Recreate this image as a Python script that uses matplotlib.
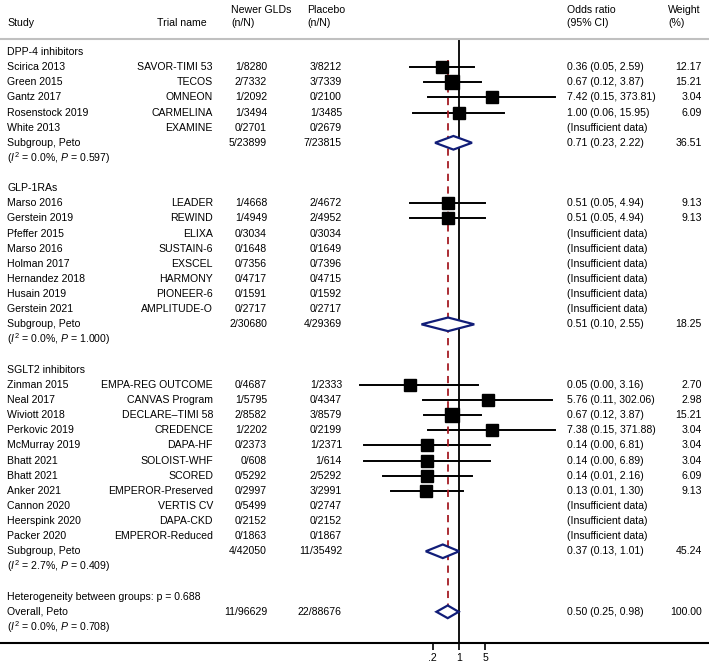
import numpy as np
import matplotlib
matplotlib.use("Agg")
import matplotlib.pyplot as plt

plt.rcParams['font.family'] = ['Liberation Sans', 'DejaVu Sans']
plt.rcParams['mathtext.fontset'] = 'custom'
plt.rcParams['mathtext.rm'] = 'Liberation Sans'
plt.rcParams['mathtext.it'] = 'Liberation Sans:italic'

# ---- data ----
group_names = ['DPP-4 inhibitors', 'GLP-1RAs', 'SGLT2 inhibitors']
group = [0, 0, 0, 0, 0,
         1, 1, 1, 1, 1, 1, 1, 1,
         2, 2, 2, 2, 2, 2, 2, 2, 2, 2, 2]
study = ['Scirica 2013', 'Green 2015', 'Gantz 2017', 'Rosenstock 2019', 'White 2013',
         'Marso 2016', 'Gerstein 2019', 'Pfeffer 2015', 'Marso 2016', 'Holman 2017',
         'Hernandez 2018', 'Husain 2019', 'Gerstein 2021',
         'Zinman 2015', 'Neal 2017', 'Wiviott 2018', 'Perkovic 2019', 'McMurray 2019',
         'Bhatt 2021', 'Bhatt 2021', 'Anker 2021', 'Cannon 2020', 'Heerspink 2020',
         'Packer 2020']
trial = ['SAVOR-TIMI 53', 'TECOS', 'OMNEON', 'CARMELINA', 'EXAMINE',
         'LEADER', 'REWIND', 'ELIXA', 'SUSTAIN-6', 'EXSCEL', 'HARMONY', 'PIONEER-6',
         'AMPLITUDE-O',
         'EMPA-REG OUTCOME', 'CANVAS Program', 'DECLARE\u2013TIMI 58', 'CREDENCE',
         'DAPA-HF', 'SOLOIST-WHF', 'SCORED', 'EMPEROR-Preserved', 'VERTIS CV',
         'DAPA-CKD', 'EMPEROR-Reduced']
n_new = ['1/8280', '2/7332', '1/2092', '1/3494', '0/2701',
         '1/4668', '1/4949', '0/3034', '0/1648', '0/7356', '0/4717', '0/1591', '0/2717',
         '0/4687', '1/5795', '2/8582', '1/2202', '0/2373', '0/608', '0/5292', '0/2997',
         '0/5499', '0/2152', '0/1863']
n_pbo = ['3/8212', '3/7339', '0/2100', '1/3485', '0/2679',
         '2/4672', '2/4952', '0/3034', '0/1649', '0/7396', '0/4715', '0/1592', '0/2717',
         '1/2333', '0/4347', '3/8579', '0/2199', '1/2371', '1/614', '2/5292', '3/2991',
         '0/2747', '0/2152', '0/1867']
odds = [0.36, 0.67, 7.42, 1.00, None,
        0.51, 0.51, None, None, None, None, None, None,
        0.05, 5.76, 0.67, 7.38, 0.14, 0.14, 0.14, 0.13, None, None, None]
ci_lo = [0.05, 0.12, 0.15, 0.06, None,
         0.05, 0.05, None, None, None, None, None, None,
         0.0023, 0.11, 0.12, 0.15, 0.003, 0.003, 0.0094, 0.015, None, None, None]
ci_hi = [2.59, 3.87, 373.81, 15.95, None,
         4.94, 4.94, None, None, None, None, None, None,
         3.16, 302.06, 3.87, 371.88, 6.81, 6.89, 2.16, 1.30, None, None, None]
weight = [12.17, 15.21, 3.04, 6.09, None,
          9.13, 9.13, None, None, None, None, None, None,
          2.70, 2.98, 15.21, 3.04, 3.04, 3.04, 6.09, 9.13, None, None, None]

sub_new = ['5/23899', '2/30680', '4/42050']
sub_pbo = ['7/23815', '4/29369', '11/35492']
sub_or = [0.71, 0.51, 0.37]
sub_lo = [0.23, 0.10, 0.13]
sub_hi = [2.22, 2.55, 1.01]
sub_w = [36.51, 18.25, 45.24]
sub_i2 = ['0.0%', '0.0%', '2.7%']
sub_p = ['0.597', '1.000', '0.409']

het_p = '0.688'
tot_new, tot_pbo = '11/96629', '22/88676'
tot_or, tot_lo, tot_hi, tot_w = 0.50, 0.25, 0.98, 100.00
tot_i2, tot_p = '0.0%', '0.708'

# ---- figure ----
W, H = 709, 669
fig = plt.figure(figsize=(W / 100, H / 100), dpi=100)
top_px, bot_px = 39, 643
ax = fig.add_axes([0, (H - bot_px) / H, 1, (bot_px - top_px) / H])
x0, ppd = 459, 37.5   # pixel of OR=1, pixels per decade
ax.set_xscale('log')
ax.set_xlim(10 ** (-x0 / ppd), 10 ** ((W - x0) / ppd))
r0, dr = 52, 15.13
ax.set_ylim((bot_px - r0) / dr, (top_px - r0) / dr)

for s in ['left', 'right']:
    ax.spines[s].set_visible(False)
ax.spines['top'].set_color('#c0c0c0')
ax.spines['top'].set_linewidth(1.5)
ax.spines['bottom'].set_linewidth(1.5)
ax.set_yticks([])
ax.set_xticks([0.2, 1, 5])
ax.set_xticklabels(['.2', '1', '5'])
ax.minorticks_off()
fs = 7.55
ax.tick_params(axis='x', length=5, width=1.2, pad=2, labelsize=fs)

tr = ax.get_yaxis_transform()
def fx(px):
    return px / W

def txt(px, row, s, ha='left'):
    ax.text(fx(px), row, s, transform=tr, ha=ha, va='center', fontsize=fs)

# headers
hr1, hr2 = (10 - r0) / dr, (23 - r0) / dr
txt(7, hr2, 'Study')
txt(157, hr2, 'Trial name')
txt(231, hr1, 'Newer GLDs'); txt(231, hr2, '(n/N)')
txt(307, hr1, 'Placebo'); txt(307, hr2, '(n/N)')
txt(567, hr1, 'Odds ratio'); txt(567, hr2, '(95% CI)')
txt(668, hr1, 'Weight'); txt(668, hr2, '(%)')

navy = '#111d78'

def diamond(row, est, lo, hi, h=0.45):
    ax.fill([lo, est, hi, est, lo], [row, row - h, row, row + h, row],
            facecolor='white', edgecolor=navy, lw=1.6, zorder=3)

row = 0
for g, gname in enumerate(group_names):
    txt(7, row, gname)
    row += 1
    for k in [i for i in range(len(study)) if group[i] == g]:
        txt(7, row, study[k])
        txt(213, row, trial[k], ha='right')
        txt(267, row, n_new[k], ha='right')
        txt(342, row, n_pbo[k], ha='right')
        if odds[k] is None:
            txt(567, row, '(Insufficient data)')
        else:
            ax.plot([ci_lo[k], ci_hi[k]], [row, row], color='black', lw=1.4, zorder=2)
            ms = (11.5 + 0.1 * weight[k]) * 0.72
            ax.plot(odds[k], row, 's', color='black', ms=ms, zorder=4)
            txt(567, row, f'{odds[k]:.2f} ({ci_lo[k]:.2f}, {ci_hi[k]:.2f})')
            txt(702, row, f'{weight[k]:.2f}', ha='right')
        row += 1
    txt(7, row, 'Subgroup, Peto')
    txt(267, row, sub_new[g], ha='right')
    txt(342, row, sub_pbo[g], ha='right')
    diamond(row, sub_or[g], sub_lo[g], sub_hi[g])
    txt(567, row, f'{sub_or[g]:.2f} ({sub_lo[g]:.2f}, {sub_hi[g]:.2f})')
    txt(702, row, f'{sub_w[g]:.2f}', ha='right')
    row += 1
    txt(7, row, rf'($I^2$ = {sub_i2[g]}, $P$ = {sub_p[g]})')
    row += 2

txt(7, row, f'Heterogeneity between groups: p = {het_p}')
row += 1
txt(7, row, 'Overall, Peto')
txt(267, row, tot_new, ha='right')
txt(342, row, tot_pbo, ha='right')
diamond(row, tot_or, tot_lo, tot_hi, h=0.42)
txt(567, row, f'{tot_or:.2f} ({tot_lo:.2f}, {tot_hi:.2f})')
txt(702, row, f'{tot_w:.2f}', ha='right')
txt(7, row + 1, rf'($I^2$ = {tot_i2}, $P$ = {tot_p})')

ax.axvline(1, color='black', lw=1.3, zorder=1)
ax.plot([tot_or, tot_or], [0.5, row + 0.42], color='#a51c24', lw=1.3,
        ls=(0, (4, 3)), zorder=2.5)

fig.savefig('out.png', dpi=100)
